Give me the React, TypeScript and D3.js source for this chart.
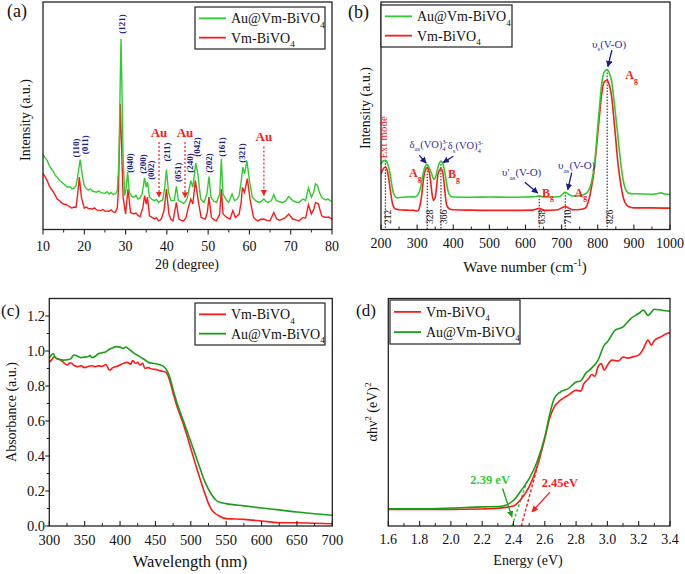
import React from 'react';
import * as d3 from 'd3';

const SERIF = '"Liberation Serif", "Times New Roman", Times, serif';
const RED = '#ff1a1a';
const GREEN_LIGHT = '#2fcc2f';
const GREEN_DARK = '#17a017';
const NAVY = '#1a1a8a';
const BLUE = '#30309c';

type Pt = [number, number];

// ---------- (a) XRD ----------
const xrdAu: Pt[] = [[10,33.0],[10.5,31.5],[11,30.4],[11.5,28.2],[12,26.7],[12.5,25.6],[13,23.7],[13.5,22.9],[14,21.5],[14.5,20.9],[15,20.1],[15.5,19.2],[16,18.6],[16.5,18.9],[17,17.8],[17.5,18.2],[18,19.3],[18.5,24.5],[19,30.7],[19.5,24.0],[20,19.3],[20.5,17.9],[21,17.4],[21.5,17.8],[22,16.8],[23,16.4],[23.5,17.0],[24,16.2],[25,15.9],[25.5,16.6],[26,15.6],[26.5,16.3],[27,15.3],[27.6,15.8],[28,17.1],[28.4,30.4],[28.7,64.3],[28.9,83.8],[29.1,64.3],[29.4,31.9],[29.8,14.9],[30.2,18.6],[30.5,25.2],[30.9,16.4],[31.5,14.5],[32,14.2],[32.5,15.0],[33,13.4],[33.5,13.9],[34,15.6],[34.6,22.7],[35.0,18.6],[35.3,20.8],[35.8,14.2],[36.5,13.1],[37,12.7],[37.5,13.2],[38,11.9],[38.5,12.6],[39,13.0],[39.5,18.6],[39.9,26.3],[40.4,16.4],[41,12.7],[41.8,12.7],[42.3,19.0],[42.8,12.7],[43.4,12.2],[44,11.5],[44.5,12.3],[45,14.2],[45.8,21.5],[46.3,18.6],[47.0,29.2],[47.5,24.5],[48.2,13.4],[48.6,12.6],[49,11.9],[49.7,15.6],[50.2,23.3],[50.7,14.2],[51.3,12.5],[52,11.9],[52.8,15.6],[53.2,31.1],[53.6,15.6],[54.5,12.7],[55,11.9],[55.8,15.6],[56.4,12.7],[57,13.3],[57.5,14.9],[58,21.0],[58.4,27.4],[58.8,24.5],[59.4,30.1],[60,21.5],[60.7,14.2],[61.5,12.7],[62,12.2],[62.5,11.9],[63,12.6],[63.5,13.4],[64,12.4],[64.5,11.9],[65.3,12.6],[65.9,15.3],[66.5,12.7],[67.2,12.3],[68,11.9],[68.8,12.6],[69.5,14.5],[70.5,12.7],[71.2,12.1],[72,11.9],[72.5,12.7],[73,13.4],[73.6,12.8],[74.3,18.3],[75,14.2],[75.6,16.5],[76,20.1],[76.5,19.3],[77,16.0],[77.5,14.2],[78,13.4],[78.5,13.0],[79,13.5],[79.5,12.7],[80,12.4]];
const xrdVm: Pt[] = [[10,24.5],[10.5,23.2],[11,21.5],[11.5,19.3],[12,17.8],[12.5,16.5],[13,14.9],[13.5,13.3],[14,12.7],[14.5,11.7],[15,11.2],[15.5,11.0],[16,10.5],[16.5,10.0],[17,9.4],[17.5,9.9],[18,9.7],[18.4,15.6],[18.8,23.0],[19.3,14.2],[20,9.4],[20.5,9.9],[21,9.2],[22,9.0],[22.5,9.5],[23,8.6],[24,8.3],[24.5,8.8],[25,8.1],[26,8.0],[26.5,8.6],[27,7.7],[27.5,7.5],[28,9.5],[28.3,18.6],[28.7,55.2],[29.0,37.8],[29.4,14.2],[30,6.8],[30.6,17.8],[31.2,7.5],[32,6.8],[32.5,7.3],[33,6.2],[33.5,5.6],[34.2,9.7],[34.6,14.9],[35.0,11.2],[35.3,14.2],[35.8,6.0],[36.5,5.2],[37,4.6],[37.5,5.1],[38,3.8],[38.6,4.4],[39.3,8.3],[39.9,17.8],[40.5,6.8],[41,4.4],[41.5,3.8],[42.3,11.9],[42.9,4.6],[43.5,4.0],[44,3.8],[44.6,5.0],[45.2,9.7],[45.8,13.4],[46.3,11.2],[46.9,21.5],[47.6,12.7],[48.3,5.3],[49.3,4.6],[49.8,7.5],[50.2,14.2],[50.8,5.3],[51.4,4.3],[52,3.8],[52.8,6.8],[53.2,17.8],[53.6,6.8],[54.5,5.3],[55.3,4.6],[56,8.3],[56.6,5.3],[57.5,6.8],[58,12.0],[58.3,18.6],[58.8,16.4],[59.5,22.3],[60.2,12.7],[61,5.3],[61.5,4.4],[62,3.8],[62.8,4.5],[63.5,4.6],[64.2,4.0],[65,3.8],[65.9,7.5],[66.6,4.6],[67.3,4.1],[68,4.6],[68.7,5.2],[69.5,6.8],[70.5,4.6],[71.2,4.2],[72,3.8],[72.6,4.7],[73,5.3],[73.6,5.0],[74.3,10.9],[75,6.8],[75.6,9.0],[76,11.9],[76.7,11.2],[77.5,6.0],[78,5.6],[78.5,5.3],[79.2,5.5],[80,4.6]];
const xrdTicks = [10, 20, 30, 40, 50, 60, 70, 80];
const hklLabels = ['(110)', '(011)', '(121)', '(040)', '(200)', '(002)', '(211)', '(051)', '(240)', '(042)', '(202)', '(161)', '(321)'];
const hklPos: Pt[] = [[18.0,35.8],[20.2,37.2],[29.1,90.3],[31.1,29.2],[34.2,28.8],[36.2,26.1],[40.0,34.1],[42.7,25.2],[45.6,29.2],[47.3,36.3],[50.2,29.2],[53.4,36.3],[58.2,33.6]];
const auPeaks = [38.1, 44.4, 63.5];
const auTop = [38.5, 38.5, 36.5];
const auBottom = [14.2, 14.0, 15.0];

// ---------- (b) Raman ----------
const ramanAu: Pt[] = [[200,28.9],[205,30.0],[212,30.4],[218,29.0],[225,24.5],[230,19.5],[235,15.7],[245,13.9],[260,14.2],[280,14.4],[295,14.3],[302,15.2],[310,18.6],[316,24.0],[320,26.7],[328,28.5],[334,27.0],[340,24.5],[347,22.0],[352,23.5],[358,27.5],[366,30.1],[372,28.5],[378,24.0],[385,17.2],[392,14.8],[400,14.3],[450,14.2],[500,14.3],[550,14.2],[600,14.3],[625,14.4],[638,14.8],[650,14.3],[680,14.3],[695,14.5],[703,15.6],[710,16.4],[718,15.6],[730,14.7],[750,14.9],[765,15.6],[775,17.2],[783,21.0],[790,27.5],[795,35.5],[800,45.1],[805,54.0],[810,62.7],[818,69.3],[826,70.3],[832,68.8],[838,65.5],[845,56.8],[850,49.5],[855,42.1],[860,34.5],[865,27.5],[870,22.0],[875,18.6],[880,16.8],[885,16.0],[900,15.7],[950,15.5],[965,15.8],[975,16.1],[985,15.6],[1000,15.4]];
const ramanVm: Pt[] = [[200,24.5],[205,26.3],[212,27.5],[218,25.5],[222,21.6],[227,16.0],[232,11.3],[240,9.0],[250,8.7],[270,8.5],[290,8.4],[302,8.1],[307,10.0],[312,14.2],[316,20.0],[320,24.5],[328,27.2],[333,25.5],[337,21.6],[341,16.0],[345,12.8],[350,14.0],[354,19.0],[358,24.5],[366,26.7],[371,25.0],[375,20.0],[378,15.0],[382,10.6],[390,9.0],[400,8.7],[450,8.5],[500,8.4],[560,8.4],[620,8.5],[630,9.0],[638,9.3],[646,8.8],[655,8.4],[690,8.7],[700,9.5],[710,10.1],[720,9.4],[730,8.7],[750,8.8],[765,9.3],[770,10.5],[775,12.8],[782,18.0],[790,26.0],[795,33.5],[800,42.1],[805,50.5],[810,58.3],[818,64.9],[826,65.6],[832,63.5],[838,59.0],[845,48.0],[850,39.5],[855,30.4],[860,24.0],[865,18.6],[870,14.5],[875,12.0],[880,10.8],[885,10.1],[900,9.5],[950,9.5],[1000,9.4]];
const ramanTicks = [200, 300, 400, 500, 600, 700, 800, 900, 1000];
const ramanModes = [212, 328, 366, 638, 710, 826];
const ramanModeTop = [30.4, 28.5, 30.1, 14.8, 16.4, 70.3];

// ---------- (c) UV-vis ----------
const uvVm: Pt[] = [[300,0.935],[303,0.948],[307,0.967],[310,0.958],[315,0.950],[320,0.935],[325,0.920],[330,0.933],[335,0.918],[340,0.910],[345,0.915],[350,0.905],[355,0.912],[360,0.916],[365,0.910],[370,0.915],[375,0.912],[380,0.923],[385,0.890],[390,0.905],[395,0.912],[400,0.920],[405,0.930],[410,0.935],[415,0.925],[418,0.945],[422,0.930],[425,0.935],[428,0.920],[432,0.930],[435,0.900],[440,0.905],[445,0.897],[450,0.895],[455,0.889],[460,0.884],[465,0.878],[470,0.834],[475,0.76],[480,0.690],[490,0.576],[500,0.443],[510,0.309],[520,0.185],[525,0.128],[530,0.090],[535,0.070],[540,0.057],[550,0.042],[575,0.038],[600,0.029],[625,0.019],[650,0.019],[675,0.016],[700,0.013]];
const uvAu: Pt[] = [[300,0.958],[303,0.977],[306,0.986],[308,0.965],[312,0.954],[320,0.948],[325,0.950],[330,0.955],[335,0.977],[340,0.970],[345,0.962],[350,0.965],[355,0.968],[358,0.975],[360,0.962],[365,0.970],[370,0.986],[375,0.990],[380,0.996],[385,1.010],[390,1.019],[395,1.025],[400,1.022],[405,1.015],[408,1.023],[412,1.012],[420,0.986],[425,0.975],[430,0.962],[435,0.950],[440,0.935],[450,0.928],[455,0.923],[462,0.910],[466,0.890],[470,0.853],[475,0.78],[480,0.710],[490,0.595],[500,0.481],[510,0.366],[520,0.252],[525,0.210],[530,0.176],[535,0.150],[540,0.137],[550,0.128],[575,0.115],[600,0.103],[625,0.092],[650,0.080],[675,0.070],[700,0.061]];
const uvXTicks = [300, 350, 400, 450, 500, 550, 600, 650, 700];
const uvYTicks = [0, 0.2, 0.4, 0.6, 0.8, 1.0, 1.2];

// ---------- (d) Tauc ----------
const taucVm: Pt[] = [[1.6,7.3],[1.8,7.3],[2.0,7.3],[2.2,7.5],[2.3,7.8],[2.35,8.2],[2.4,8.8],[2.45,12.0],[2.5,17.2],[2.55,25.9],[2.6,38.4],[2.63,47.2],[2.66,52.3],[2.7,55.3],[2.75,57.5],[2.8,59.7],[2.83,59.3],[2.85,62.6],[2.88,64.8],[2.9,66.6],[2.92,65.8],[2.94,69.9],[2.96,71.4],[2.98,68.5],[3.0,70.7],[3.03,72.9],[3.07,72.5],[3.1,74.3],[3.13,73.8],[3.17,74.5],[3.2,75.1],[3.23,78.0],[3.26,81.7],[3.28,79.5],[3.3,81.5],[3.34,83.1],[3.38,84.6],[3.4,84.9]];
const taucAu: Pt[] = [[1.6,7.6],[1.8,7.6],[2.0,7.9],[2.2,8.4],[2.3,8.5],[2.35,9.1],[2.4,11.3],[2.45,15.7],[2.5,20.8],[2.55,28.1],[2.6,39.1],[2.63,48.7],[2.66,56.0],[2.7,58.9],[2.75,60.4],[2.8,63.3],[2.83,63.8],[2.86,67.0],[2.9,69.5],[2.94,72.9],[2.98,79.5],[3.0,80.9],[3.05,86.1],[3.1,87.5],[3.15,91.2],[3.2,93.4],[3.23,94.9],[3.26,92.6],[3.3,95.3],[3.35,94.8],[3.4,94.4]];
const taucTicks = [1.6, 1.8, 2.0, 2.2, 2.4, 2.6, 2.8, 3.0, 3.2, 3.4];
const gapAu = 2.39;
const gapVm = 2.45;
const tangentAu: Pt[] = [[2.39, 0], [2.485, 19.5]];
const tangentVm: Pt[] = [[2.45, 0], [2.57, 30.5]];

type Lin = d3.ScaleLinear<number, number>;
type Part = [string, 'n' | 'b' | 'p', number?];

function Rich({ x, y, size, color, weight, anchor, parts, transform }:
  { x?: number; y?: number; size: number; color: string; weight?: string; anchor?: string; parts: Part[]; transform?: string }) {
  let cur = 0;
  return (
    <text x={x} y={y} transform={transform} fontSize={size} fontFamily={SERIF} fill={color}
      fontWeight={weight || 'normal'} textAnchor={anchor || 'start'}>
      {parts.map(([t, k, dx], i) => {
        const target = k === 'b' ? size * 0.3 : k === 'p' ? -size * 0.4 : 0;
        const dy = target - cur;
        cur = target;
        return <tspan key={i} dy={dy} dx={dx || 0} fontSize={k === 'n' ? size : size * 0.65}>{t}</tspan>;
      })}
    </text>
  );
}

function Frame({ x, y }: { x: Lin; y: Lin }) {
  const [l, r] = x.range();
  const [b, t] = y.range();
  return <rect x={l} y={t} width={r - l} height={b - t} fill="none" stroke="#222" strokeWidth={1.3} />;
}

function XTicks({ x, y, major, dir, fontSize, labelY, fmt }:
  { x: Lin; y: Lin; major: number[]; dir: number; fontSize: number; labelY: number; fmt: (v: number) => string }) {
  const yb = y.range()[0];
  const minors: number[] = [];
  for (let i = 0; i < major.length - 1; i++) minors.push((major[i] + major[i + 1]) / 2);
  return (
    <g>
      {major.map((v, i) => (
        <g key={'M' + i}>
          <line x1={x(v)} x2={x(v)} y1={yb} y2={yb + dir * 5} stroke="#222" strokeWidth={1.1} />
          <text x={x(v)} y={labelY} fontSize={fontSize} textAnchor="middle" fontFamily={SERIF} fill="#111">{fmt(v)}</text>
        </g>
      ))}
      {minors.map((v, i) => (
        <line key={'m' + i} x1={x(v)} x2={x(v)} y1={yb} y2={yb + dir * 3} stroke="#222" strokeWidth={1} />
      ))}
    </g>
  );
}

function Legend({ bx, by, w, h, items, fontSize }:
  { bx: number; by: number; w: number; h: number; items: { label: string; color: string }[]; fontSize: number }) {
  return (
    <g>
      <rect x={bx} y={by} width={w} height={h} fill="white" stroke="#222" strokeWidth={1.2} />
      {items.map((it, i) => {
        const cy = by + h * (i === 0 ? 0.27 : 0.73);
        return (
          <g key={i}>
            <line x1={bx + 4} x2={bx + 31} y1={cy} y2={cy} stroke={it.color} strokeWidth={1.8} />
            <Rich x={bx + 36} y={cy + 5} size={fontSize} color="#111" parts={[[it.label, 'n'], ['4', 'b']]} />
          </g>
        );
      })}
    </g>
  );
}

export default function App() {
  const xa = d3.scaleLinear().domain([10, 80]).range([43, 332]);
  const ya = d3.scaleLinear().domain([0, 100]).range([229.5, 2]);
  const lineA = d3.line<Pt>().x(d => xa(d[0])).y(d => ya(d[1]));
  const xb = d3.scaleLinear().domain([200, 1000]).range([381, 670]);
  const yb = d3.scaleLinear().domain([0, 100]).range([229.5, 2]);
  const lineB = d3.line<Pt>().x(d => xb(d[0])).y(d => yb(d[1])).curve(d3.curveMonotoneX);
  const xc = d3.scaleLinear().domain([300, 700]).range([49.3, 332.3]);
  const yc = d3.scaleLinear().domain([0, 1.3]).range([526, 298.5]);
  const lineC = d3.line<Pt>().x(d => xc(d[0])).y(d => yc(d[1])).curve(d3.curveMonotoneX);
  const xd = d3.scaleLinear().domain([1.6, 3.4]).range([388.3, 670]);
  const yd = d3.scaleLinear().domain([0, 100]).range([526, 298.5]);
  const lineD = d3.line<Pt>().x(d => xd(d[0])).y(d => yd(d[1])).curve(d3.curveMonotoneX);

  const ycMinor: number[] = [];
  for (let i = 0; i < uvYTicks.length - 1; i++) ycMinor.push((uvYTicks[i] + uvYTicks[i + 1]) / 2);

  const T = (s: string, size: number, props: any) => (
    <text fontFamily={SERIF} fontSize={size} fill="#111" {...props}>{s}</text>
  );

  return (
    <svg width={685} height={574} style={{ position: 'absolute', left: 0, top: 0, background: 'white', fontFamily: SERIF }}>
      <defs>
        <style>{`text, tspan { font-family: "Liberation Serif", "Times New Roman", serif; }`}</style>
        <marker id="arrRed" viewBox="0 0 10 10" refX="9" refY="5" markerWidth="5" markerHeight="5" orient="auto">
          <path d="M0,0 L10,5 L0,10 z" fill={RED} />
        </marker>
        <marker id="arrNavy" viewBox="0 0 10 10" refX="9" refY="5" markerWidth="5" markerHeight="5" orient="auto">
          <path d="M0,0 L10,5 L0,10 z" fill={NAVY} />
        </marker>
        <marker id="arrGreen" viewBox="0 0 10 10" refX="9" refY="5" markerWidth="5" markerHeight="5" orient="auto">
          <path d="M0,0 L10,5 L0,10 z" fill={GREEN_DARK} />
        </marker>
      </defs>
      <rect x={0} y={0} width={685} height={574} fill="white" />

      {/* ================= (a) ================= */}
      <g>
        <path d={lineA(xrdVm) || ''} fill="none" stroke={RED} strokeWidth={1.4} />
        <path d={lineA(xrdAu) || ''} fill="none" stroke={GREEN_LIGHT} strokeWidth={1.4} />
        <Frame x={xa} y={ya} />
        <XTicks x={xa} y={ya} major={xrdTicks} dir={1} fontSize={14} labelY={251} fmt={v => String(v)} />
        {T('2θ (degree)', 14, { x: 187, y: 269, textAnchor: 'middle' })}
        {T('Intensity (a.u.)', 14, { transform: 'translate(30,120) rotate(-90)', textAnchor: 'middle' })}
        {T('(a)', 18, { x: 7, y: 17 })}
        {hklLabels.map((s, i) => (
          <text key={s} transform={`translate(${xa(hklPos[i][0]) + 3},${ya(hklPos[i][1])}) rotate(-90)`} fontFamily={SERIF}
            fontSize={9} fontWeight="bold" textAnchor="middle" fill={NAVY}>{s}</text>
        ))}
        {auPeaks.map((p, i) => (
          <g key={'au' + i}>
            <text x={xa(p)} y={ya(auTop[i]) - 5} fontFamily={SERIF} fontSize={13} fontWeight="bold" textAnchor="middle" fill={RED}>Au</text>
            <line x1={xa(p)} x2={xa(p)} y1={ya(auTop[i])} y2={ya(auBottom[i])} stroke={RED} strokeWidth={1.2} strokeDasharray="2,2" markerEnd="url(#arrRed)" />
          </g>
        ))}
        <Legend bx={195} by={7} w={130} h={42} fontSize={14} items={[{ label: 'Au@Vm-BiVO', color: GREEN_LIGHT }, { label: 'Vm-BiVO', color: RED }]} />
      </g>

      {/* ================= (b) ================= */}
      <g>
        {ramanModes.map((m, i) => (
          <g key={'rm' + i}>
            <line x1={xb(m)} x2={xb(m)} y1={yb(ramanModeTop[i])} y2={yb(0)} stroke="#111" strokeWidth={1} strokeDasharray="1.5,1.5" />
            <text transform={`translate(${xb(m) + 6},${yb(5.5)}) rotate(-90)`} fontFamily={SERIF} fontSize={9.5} textAnchor="middle" fill="#111">{m}</text>
          </g>
        ))}
        <path d={lineB(ramanVm) || ''} fill="none" stroke={RED} strokeWidth={1.6} />
        <path d={lineB(ramanAu) || ''} fill="none" stroke={GREEN_LIGHT} strokeWidth={1.6} />
        <Frame x={xb} y={yb} />
        <XTicks x={xb} y={yb} major={ramanTicks} dir={-1} fontSize={14} labelY={248} fmt={v => String(v)} />
        <Rich x={525} y={272} size={15} color="#111" anchor="middle" parts={[['Wave number (cm', 'n'], ['-1', 'p'], [')', 'n']]} />
        {T('Intensity (a.u.)', 14, { transform: 'translate(370,108) rotate(-90)', textAnchor: 'middle' })}
        {T('(b)', 18, { x: 348, y: 18 })}
        <text transform={`translate(${xb(216)},${yb(40.5)}) rotate(-90)`} fontFamily={SERIF} fontSize={11} textAnchor="middle" fill={RED}>Ext mode</text>
        <Rich x={xb(295)} y={yb(23)} size={12} color={RED} weight="bold" anchor="middle" parts={[['A', 'n'], ['g', 'b']]} />
        <Rich x={xb(402)} y={yb(22.5)} size={12} color={RED} weight="bold" anchor="middle" parts={[['B', 'n'], ['g', 'b']]} />
        <Rich x={xb(662)} y={yb(14.5)} size={12} color={RED} weight="bold" anchor="middle" parts={[['B', 'n'], ['g', 'b']]} />
        <Rich x={xb(753)} y={yb(14.5)} size={12} color={RED} weight="bold" anchor="middle" parts={[['A', 'n'], ['g', 'b']]} />
        <Rich x={xb(876)} y={yb(66)} size={12} color={RED} weight="bold" parts={[['A', 'n'], ['g', 'b']]} />
        <Rich x={xb(279)} y={yb(35.7)} size={10.5} color={BLUE} parts={[['δ', 'n'], ['as', 'b'], ['(VO)', 'n'], ['4', 'b'], ['3-', 'p', -3.5]]} />
        <Rich x={xb(385)} y={yb(35.2)} size={10.5} color={BLUE} parts={[['δ', 'n'], ['s', 'b'], ['(VO)', 'n'], ['4', 'b'], ['3-', 'p', -3.5]]} />
        <Rich x={xb(535)} y={yb(23.3)} size={11} color={BLUE} parts={[['υ\'', 'n'], ['as', 'b'], ['(V-O)', 'n']]} />
        <Rich x={xb(690)} y={yb(26.4)} size={11} color={BLUE} parts={[['υ', 'n'], ['as', 'b'], ['(V-O)', 'n']]} />
        <Rich x={xb(784)} y={yb(79.7)} size={11} color={BLUE} parts={[['υ', 'n'], ['s', 'b'], ['(V-O)', 'n']]} />
        <line x1={xb(306)} y1={yb(32.6)} x2={xb(325)} y2={yb(29.2)} stroke={NAVY} strokeWidth={1.3} markerEnd="url(#arrNavy)" />
        <line x1={xb(400)} y1={yb(32.2)} x2={xb(372)} y2={yb(29.4)} stroke={NAVY} strokeWidth={1.3} markerEnd="url(#arrNavy)" />
        <line x1={xb(598)} y1={yb(20.8)} x2={xb(634)} y2={yb(16.0)} stroke={NAVY} strokeWidth={1.3} markerEnd="url(#arrNavy)" />
        <line x1={xb(728)} y1={yb(25.0)} x2={xb(717)} y2={yb(17.5)} stroke={NAVY} strokeWidth={1.3} markerEnd="url(#arrNavy)" />
        <line x1={xb(839)} y1={yb(78.8)} x2={xb(828)} y2={yb(71.6)} stroke={NAVY} strokeWidth={1.3} markerEnd="url(#arrNavy)" />
        <Legend bx={381} by={5} w={131} h={42} fontSize={14} items={[{ label: 'Au@Vm-BiVO', color: GREEN_LIGHT }, { label: 'Vm-BiVO', color: RED }]} />
      </g>

      {/* ================= (c) ================= */}
      <g>
        <path d={lineC(uvVm) || ''} fill="none" stroke={RED} strokeWidth={1.6} />
        <path d={lineC(uvAu) || ''} fill="none" stroke={GREEN_DARK} strokeWidth={1.6} />
        <Frame x={xc} y={yc} />
        <XTicks x={xc} y={yc} major={uvXTicks} dir={-1} fontSize={14.5} labelY={545} fmt={v => String(v)} />
        {uvYTicks.map((v, i) => (
          <g key={'cy' + i}>
            <line x1={xc(300)} x2={xc(300) - 4} y1={yc(v)} y2={yc(v)} stroke="#222" strokeWidth={1.1} />
            {T(v.toFixed(1), 14.5, { x: 45, y: yc(v) + 5, textAnchor: 'end' })}
          </g>
        ))}
        {ycMinor.map((v, i) => (
          <line key={'cym' + i} x1={xc(300)} x2={xc(300) - 2.5} y1={yc(v)} y2={yc(v)} stroke="#222" strokeWidth={1} />
        ))}
        {T('Wavelength (nm)', 16.5, { x: 190, y: 567, textAnchor: 'middle' })}
        {T('Absorbance (a.u.)', 14, { transform: 'translate(16,412) rotate(-90)', textAnchor: 'middle' })}
        {T('(c)', 17, { x: 1, y: 316 })}
        <Legend bx={195} by={303} w={130} h={42} fontSize={14} items={[{ label: 'Vm-BiVO', color: RED }, { label: 'Au@Vm-BiVO', color: GREEN_DARK }]} />
      </g>

      {/* ================= (d) ================= */}
      <g>
        <path d={lineD(tangentAu) || ''} fill="none" stroke={GREEN_LIGHT} strokeWidth={1.4} strokeDasharray="3,2" />
        <path d={lineD(tangentVm) || ''} fill="none" stroke={RED} strokeWidth={1.4} strokeDasharray="3,2" />
        <path d={lineD(taucVm) || ''} fill="none" stroke={RED} strokeWidth={1.6} />
        <path d={lineD(taucAu) || ''} fill="none" stroke={GREEN_DARK} strokeWidth={1.6} />
        <Frame x={xd} y={yd} />
        <XTicks x={xd} y={yd} major={taucTicks} dir={-1} fontSize={14} labelY={544} fmt={v => v.toFixed(1)} />
        {T('Energy (eV)', 14, { x: 528, y: 565, textAnchor: 'middle' })}
        <Rich transform="translate(377,412) rotate(-90)" size={14} color="#111" anchor="middle"
          parts={[['αhν', 'n'], ['2', 'p'], [' (eV)', 'n'], ['2', 'p']]} />
        {T('(d)', 17, { x: 356, y: 316 })}
        <text x={xd(gapAu) - 2} y={yd(18.5)} fontFamily={SERIF} fontSize={12.5} fontWeight="bold" textAnchor="end" fill={GREEN_LIGHT}>{gapAu.toFixed(2)} eV</text>
        <line x1={xd(2.33)} y1={yd(16.5)} x2={xd(2.39)} y2={yd(4)} stroke={GREEN_DARK} strokeWidth={1.3} markerEnd="url(#arrGreen)" />
        <text x={xd(2.58)} y={yd(17)} fontFamily={SERIF} fontSize={12.5} fontWeight="bold" textAnchor="start" fill={RED}>{gapVm.toFixed(2)}eV</text>
        <line x1={xd(2.633)} y1={yd(14.9)} x2={xd(2.518)} y2={yd(6.2)} stroke={RED} strokeWidth={1.3} markerEnd="url(#arrRed)" />
        <Legend bx={390} by={300} w={130} h={44} fontSize={14} items={[{ label: 'Vm-BiVO', color: RED }, { label: 'Au@Vm-BiVO', color: GREEN_DARK }]} />
      </g>
    </svg>
  );
}
